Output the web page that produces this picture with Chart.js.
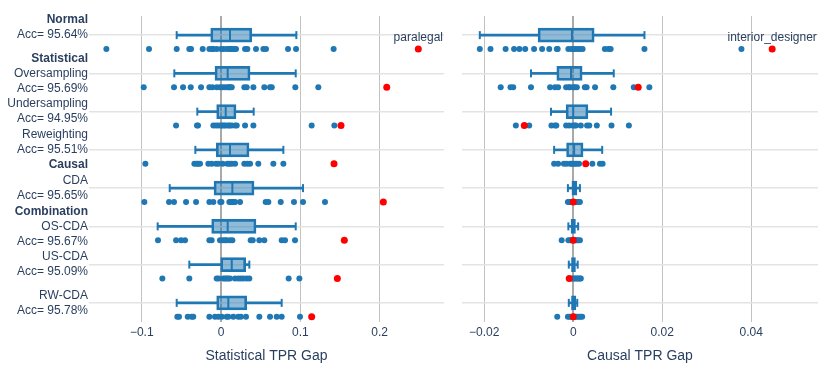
<!DOCTYPE html>
<html lang="en">
<head>
<meta charset="UTF-8">
<title>TPR gap by method</title>
<script src="https://cdn.jsdelivr.net/npm/chart.js@4.4.1/dist/chart.umd.min.js"></script>
<style>
  body { margin: 0; background: #fff; }
  #wrap { position: relative; width: 830px; height: 370px; }
  canvas { position: absolute; top: 0; }
  #statChart { left: 0; }
  #causChart { left: 452px; }
</style>
</head>
<body>
<div id="wrap">
  <canvas id="statChart" width="452" height="370"></canvas>
  <canvas id="causChart" width="378" height="370"></canvas>
</div>
<script>
// y tick labels, one list of lines per row ('**' = bold)
const rowLabels = [
  ['**Normal', 'Acc= 95.64%', ''],
  ['**Statistical', 'Oversampling', 'Acc= 95.69%'],
  ['Undersampling', 'Acc= 94.95%'],
  ['Reweighting', 'Acc= 95.51%', '**Causal'],
  ['CDA', 'Acc= 95.65%'],
  ['**Combination', 'OS-CDA', 'Acc= 95.67%'],
  ['US-CDA', 'Acc= 95.09%'],
  ['RW-CDA', 'Acc= 95.78%']
];

// box stats per row: [lower whisker, q1, median, q3, upper whisker]
const statBoxes = [
  [-0.0559, -0.0130, 0.0113, 0.0387, 0.0950],
  [-0.0589, -0.0076, 0.0084, 0.0366, 0.0942],
  [-0.0299, -0.0055, 0.0059, 0.0189, 0.0412],
  [-0.0324, -0.0059, 0.0113, 0.0353, 0.0786],
  [-0.0647, -0.0088, 0.0143, 0.0416, 0.1034],
  [-0.0799, -0.0118, 0.0084, 0.0441, 0.0942],
  [-0.0400, -0.0004, 0.0135, 0.0311, 0.0357],
  [-0.0559, -0.0055, 0.0092, 0.0324, 0.0765]
];
const causBoxes = [
  [-0.0210, -0.0079, -0.0003, 0.0047, 0.0160],
  [-0.0095, -0.0037, -0.0005, 0.0020, 0.0091],
  [-0.0050, -0.0016, 0.0000, 0.0033, 0.0085],
  [-0.0043, -0.0015, 0.0002, 0.0022, 0.0065],
  [-0.0012, -0.0003, 0.0002, 0.0008, 0.0015],
  [-0.0011, -0.0005, 0.0000, 0.0005, 0.0011],
  [-0.0010, -0.0004, 0.0000, 0.0005, 0.0010],
  [-0.0010, -0.0004, 0.0000, 0.0006, 0.0009]
];

// per-occupation gaps
const statPoints = [
  [-0.1446, -0.0908, -0.0559, -0.0400, -0.0378, -0.0231, -0.0147, -0.0110, -0.0097, -0.0055, 0.0000, 0.0030, 0.0071, 0.0105, 0.0120, 0.0135, 0.0164, 0.0189, 0.0303, 0.0332, 0.0441, 0.0534, 0.0567, 0.0845, 0.0946, 0.1420],
  [-0.0975, -0.0593, -0.0479, -0.0382, -0.0252, -0.0147, -0.0109, -0.0055, -0.0013, 0.0021, 0.0050, 0.0084, 0.0100, 0.0113, 0.0135, 0.0294, 0.0324, 0.0408, 0.0546, 0.0618, 0.0640, 0.0937, 0.1227],
  [-0.0567, -0.0303, -0.0290, -0.0097, -0.0063, -0.0034, 0.0000, 0.0015, 0.0038, 0.0060, 0.0092, 0.0110, 0.0135, 0.0177, 0.0198, 0.0303, 0.0408, 0.1143, 0.1429],
  [-0.0954, -0.0336, -0.0307, -0.0290, -0.0265, -0.0160, -0.0118, -0.0063, -0.0034, 0.0021, 0.0080, 0.0105, 0.0135, 0.0177, 0.0294, 0.0332, 0.0366, 0.0470, 0.0660, 0.0786],
  [-0.0967, -0.0656, -0.0593, -0.0441, -0.0315, -0.0147, -0.0097, -0.0010, 0.0005, 0.0105, 0.0125, 0.0143, 0.0160, 0.0177, 0.0240, 0.0563, 0.0597, 0.0753, 0.0920, 0.1034, 0.1311],
  [-0.0795, -0.0567, -0.0504, -0.0454, -0.0147, -0.0118, -0.0013, 0.0021, 0.0050, 0.0071, 0.0113, 0.0143, 0.0374, 0.0400, 0.0483, 0.0546, 0.0765, 0.0807, 0.0933],
  [-0.0740, -0.0400, -0.0055, -0.0030, 0.0030, 0.0050, 0.0071, 0.0090, 0.0113, 0.0177, 0.0218, 0.0250, 0.0282, 0.0324, 0.0357, 0.0853, 0.0988],
  [-0.0551, -0.0530, -0.0420, -0.0370, -0.0350, -0.0147, -0.0076, -0.0034, 0.0008, 0.0071, 0.0092, 0.0155, 0.0218, 0.0250, 0.0315, 0.0483, 0.0618, 0.0702, 0.0765, 0.0996]
];
const causPoints = [
  [-0.0210, -0.0186, -0.0152, -0.0133, -0.0121, -0.0108, -0.0088, -0.0070, -0.0054, -0.0037, -0.0035, -0.0011, -0.0004, 0.0000, 0.0004, 0.0010, 0.0015, 0.0021, 0.0071, 0.0079, 0.0084, 0.0160, 0.0378],
  [-0.0163, -0.0141, -0.0135, -0.0095, -0.0052, -0.0041, -0.0034, -0.0016, -0.0010, -0.0007, 0.0000, 0.0003, 0.0008, 0.0026, 0.0030, 0.0049, 0.0090, 0.0136, 0.0171],
  [-0.0129, -0.0099, -0.0049, -0.0041, -0.0038, -0.0016, -0.0009, -0.0001, 0.0003, 0.0006, 0.0017, 0.0031, 0.0036, 0.0053, 0.0086, 0.0125],
  [-0.0043, -0.0034, -0.0021, -0.0015, -0.0007, -0.0003, 0.0000, 0.0004, 0.0008, 0.0013, 0.0043, 0.0060, 0.0066],
  [-0.0012, -0.0009, -0.0006, -0.0003, 0.0000, 0.0002, 0.0005, 0.0008, 0.0011, 0.0015],
  [-0.0026, -0.0011, -0.0007, -0.0004, -0.0001, 0.0002, 0.0005, 0.0008, 0.0011, 0.0015],
  [-0.0003, 0.0000, 0.0003, 0.0006, 0.0009, 0.0012, 0.0015, 0.0017],
  [-0.0036, -0.0012, -0.0008, -0.0004, 0.0000, 0.0004, 0.0008, 0.0012, 0.0016, 0.0020]
];

// highlighted occupation (red)
const statHighlight = [0.2488, 0.2090, 0.1513, 0.1425, 0.2047, 0.1555, 0.1467, 0.1143];
const causHighlight = [0.0447, 0.0146, -0.0110, 0.0028, 0.0000, 0.0000, -0.0009, 0.0000];
const statNote = { text: 'paralegal', row: 0 };
const causNote = { text: 'interior_designer', row: 0 };

const statTicks = [-0.1, 0, 0.1, 0.2];
const causTicks = [-0.02, 0, 0.02, 0.04];

const BLUE = '#1f77b4';
const TEXT = '#2a3f5f';
const FONT = '"Liberation Sans", Arial, sans-serif';
const PT_OFF = 0.36;   // strip points sit a bit below the box

Chart.defaults.color = TEXT;
Chart.defaults.font.family = FONT;
Chart.defaults.font.size = 12;

function fmtTick(v) {
  if (v === 0) return '0';
  return (v < 0 ? '\u2212' : '') + Math.abs(v);
}

function buildDatasets(boxes, points, highlight) {
  const pts = [];
  points.forEach((row, i) => row.forEach(v => pts.push({ x: v, y: i + PT_OFF })));
  return [
    { type: 'scatter', data: highlight.map((v, i) => ({ x: v, y: i + PT_OFF })),
      backgroundColor: '#ff0000', pointRadius: 3.5, borderWidth: 0, order: 0 },
    { type: 'scatter', data: pts, backgroundColor: BLUE, pointRadius: 3, borderWidth: 0, order: 1 },
    { type: 'scatter', data: boxes.map((b, i) => ({ x: b[2], y: i })),
      pointStyle: 'line', pointRotation: 90, pointRadius: 6, borderColor: BLUE, borderWidth: 2, order: 2 },
    { type: 'scatter', data: boxes.flatMap((b, i) => [{ x: b[0], y: i }, { x: b[4], y: i }]),
      pointStyle: 'line', pointRotation: 90, pointRadius: 4, borderColor: BLUE, borderWidth: 2, order: 3 },
    { type: 'bar', indexAxis: 'y', grouped: false, data: boxes.map((b, i) => ({ y: i, x: [b[1], b[3]] })),
      backgroundColor: 'rgba(31,119,180,0.5)', borderColor: BLUE, borderWidth: 2, borderSkipped: false,
      barThickness: 14, order: 4 },
    { type: 'bar', indexAxis: 'y', grouped: false, data: boxes.map((b, i) => ({ y: i, x: [b[0], b[1]] })),
      backgroundColor: BLUE, borderWidth: 0, barThickness: 2, order: 5 },
    { type: 'bar', indexAxis: 'y', grouped: false, data: boxes.map((b, i) => ({ y: i, x: [b[3], b[4]] })),
      backgroundColor: BLUE, borderWidth: 0, barThickness: 2, order: 5 }
  ];
}

const rowLabelPlugin = {
  id: 'rowLabels',
  afterDraw(chart) {
    const { ctx, chartArea, scales: { y } } = chart;
    ctx.save();
    ctx.textAlign = 'right';
    ctx.textBaseline = 'middle';
    ctx.fillStyle = TEXT;
    rowLabels.forEach((lines, i) => {
      const yc = y.getPixelForValue(i);
      lines.forEach((line, j) => {
        const bold = line.startsWith('**');
        ctx.font = (bold ? 'bold ' : '') + '12px ' + FONT;
        ctx.fillText(bold ? line.slice(2) : line, chartArea.left - 1, yc + (j - (lines.length - 1) / 2) * 15);
      });
    });
    ctx.restore();
  }
};

const notePlugin = {
  id: 'note',
  afterDatasetsDraw(chart, args, opts) {
    const { ctx, scales: { x, y } } = chart;
    const px = x.getPixelForValue(opts.value);
    const py = y.getPixelForValue(opts.row + PT_OFF) - 11;
    ctx.save();
    ctx.font = '12px ' + FONT;
    ctx.fillStyle = TEXT;
    ctx.textAlign = 'center';
    ctx.textBaseline = 'middle';
    ctx.fillText(opts.text, px, py);
    ctx.restore();
  }
};

function makeChart(id, cfg) {
  return new Chart(document.getElementById(id), {
    type: 'scatter',
    data: { datasets: buildDatasets(cfg.boxes, cfg.points, cfg.highlight) },
    options: {
      responsive: false,
      animation: false,
      events: [],
      layout: { padding: cfg.padding },
      plugins: {
        legend: { display: false },
        tooltip: { enabled: false },
        note: { text: cfg.note.text, row: cfg.note.row, value: cfg.highlight[cfg.note.row] }
      },
      scales: {
        x: {
          type: 'linear', min: cfg.min, max: cfg.max, offset: false,
          afterBuildTicks: s => { s.ticks = cfg.ticks.map(v => ({ value: v })); },
          afterFit: s => { s.height = 48; },
          grid: {
            offset: false,
            drawTicks: false,
            color: c => (c.tick && c.tick.value === 0) ? '#a9a9a9' : '#c2c2c2',
            lineWidth: c => (c.tick && c.tick.value === 0) ? 2 : 1
          },
          border: { display: false },
          ticks: { padding: 3, maxRotation: 0, autoSkip: false, callback: fmtTick },
          title: { display: true, text: cfg.title, font: { size: 14 }, padding: { top: 0, bottom: 5 } }
        },
        y: {
          type: 'linear', min: -0.5, max: 7.5, reverse: true, offset: false,
          afterBuildTicks: s => { s.ticks = rowLabels.map((_, i) => ({ value: i })); },
          afterFit: s => { s.width = 0; },
          ticks: { display: false },
          grid: { offset: false, drawTicks: false, color: '#e3e3e3', lineWidth: 1.5 },
          border: { display: false }
        }
      }
    },
    plugins: cfg.withLabels ? [rowLabelPlugin, notePlugin] : [notePlugin]
  });
}

makeChart('statChart', {
  boxes: statBoxes, points: statPoints, highlight: statHighlight, note: statNote,
  min: -0.1665, max: 0.2812, ticks: statTicks, title: 'Statistical TPR Gap',
  padding: { left: 89, right: 8, top: 16, bottom: 0 }, withLabels: true
});
makeChart('causChart', {
  boxes: causBoxes, points: causPoints, highlight: causHighlight, note: causNote,
  min: -0.0250, max: 0.0550, ticks: causTicks, title: 'Causal TPR Gap',
  padding: { left: 10, right: 12, top: 16, bottom: 0 }, withLabels: false
});
</script>
</body>
</html>
